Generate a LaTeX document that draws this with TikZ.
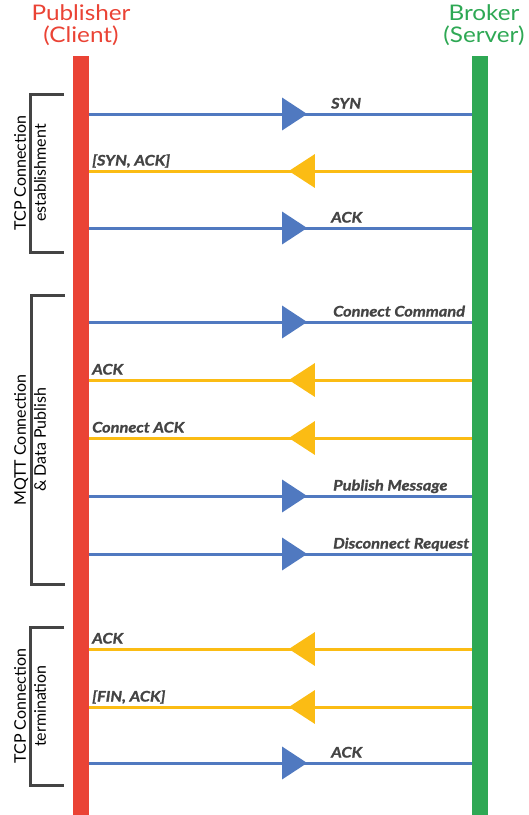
\documentclass[tikz,border=0pt]{standalone}
\usepackage{fontspec}
\setmainfont{Lato}
\newfontfamily\widefont[FakeStretch=1.13]{Lato}
\newfontfamily\msgfont[FakeStretch=1.13,FakeBold=1.2]{Lato}
\usetikzlibrary{decorations.markings,arrows.meta}

\definecolor{pubred}{HTML}{EA4335}
\definecolor{brkgreen}{HTML}{2EA854}
\definecolor{msgblue}{HTML}{5079C0}
\definecolor{msgyellow}{HTML}{FBBC14}
\definecolor{inkgray}{HTML}{444444}

\tikzset{
  lifeline/.style={inner sep=0pt, minimum width=16pt, minimum height=759pt, anchor=north},
  title/.style={font=\widefont\fontsize{21.5}{22.5}\selectfont, align=center, anchor=north},
  msg/.style={line width=3pt, postaction={decorate}},
  req/.style={msg, draw=msgblue, decoration={markings,
      mark=at position 218pt with {\arrow[msgblue]{Triangle[length=25pt,width=32pt]}}}},
  rsp/.style={msg, draw=msgyellow, decoration={markings,
      mark=at position 183pt with {\arrow[msgyellow]{Triangle[length=26pt,width=33pt]}}}},
  lbl/.style={font=\msgfont\fontsize{14.5}{16}\selectfont\bfseries\itshape, text=inkgray, inner sep=0pt, anchor=base west},
  brace/.style={draw=inkgray, line width=3pt},
  phase/.style={font=\fontsize{16}{20}\selectfont, align=center, rotate=90, text=black},
}

\begin{document}
\begin{tikzpicture}[x=1pt,y=-1pt]
\useasboundingbox (0,0) rectangle (529,815);

% participants
\node[title, text=pubred] (tpub) at (81,1) {Publisher\\(Client)};
\node[title, text=brkgreen] (tbrk) at (484,1) {Broker\\(Server)};
\node[lifeline, fill=pubred] (pub) at (81,56) {};
\node[lifeline, fill=brkgreen] (brk) at (480,56) {};

% message end points on both lifelines
\foreach \i/\y in {1/114,2/171,3/228,4/322,5/380,6/438,7/496,8/554,9/649,10/707,11/763}{
  \coordinate (p\i) at (pub.east |- 0,\y);
  \coordinate (b\i) at (brk.west |- 0,\y);
}

% TCP handshake
\draw[req] (p1) -- (b1);
\draw[rsp] (b2) -- (p2);
\draw[req] (p3) -- (b3);
% MQTT session
\draw[req] (p4) -- (b4);
\draw[rsp] (b5) -- (p5);
\draw[rsp] (b6) -- (p6);
\draw[req] (p7) -- (b7);
\draw[req] (p8) -- (b8);
% TCP teardown
\draw[rsp] (b9) -- (p9);
\draw[rsp] (b10) -- (p10);
\draw[req] (p11) -- (b11);

% message labels
\node[lbl] (l1) at (331,108.5) {SYN};
\node[lbl] (l2) at (92,165.5) {[SYN, ACK]};
\node[lbl] (l3) at (331,222.5) {ACK};
\node[lbl] (l4) at (333,316.5) {Connect Command};
\node[lbl] (l5) at (92,374.5) {ACK};
\node[lbl] (l6) at (92,432.5) {Connect ACK};
\node[lbl] (l7) at (333,490.5) {Publish Message};
\node[lbl] (l8) at (333,548.5) {Disconnect Request};
\node[lbl] (l9) at (92,643.5) {ACK};
\node[lbl] (l10) at (92,701.5) {[FIN, ACK]};
\node[lbl] (l11) at (331,757.5) {ACK};

% phase brackets
\draw[brace] (64,94) -| (30,252) -- (64,252);
\draw[brace] (65,295) -| (31,584) -- (65,584);
\draw[brace] (64,627) -| (30,785) -- (64,785);
\node[phase] (ph1) at (30,173) {TCP Connection\\establishment};
\node[phase] (ph2) at (30,440) {MQTT Connection\\\& Data Publish};
\node[phase] (ph3) at (30,706) {TCP Connection\\termination};
\end{tikzpicture}
\end{document}
